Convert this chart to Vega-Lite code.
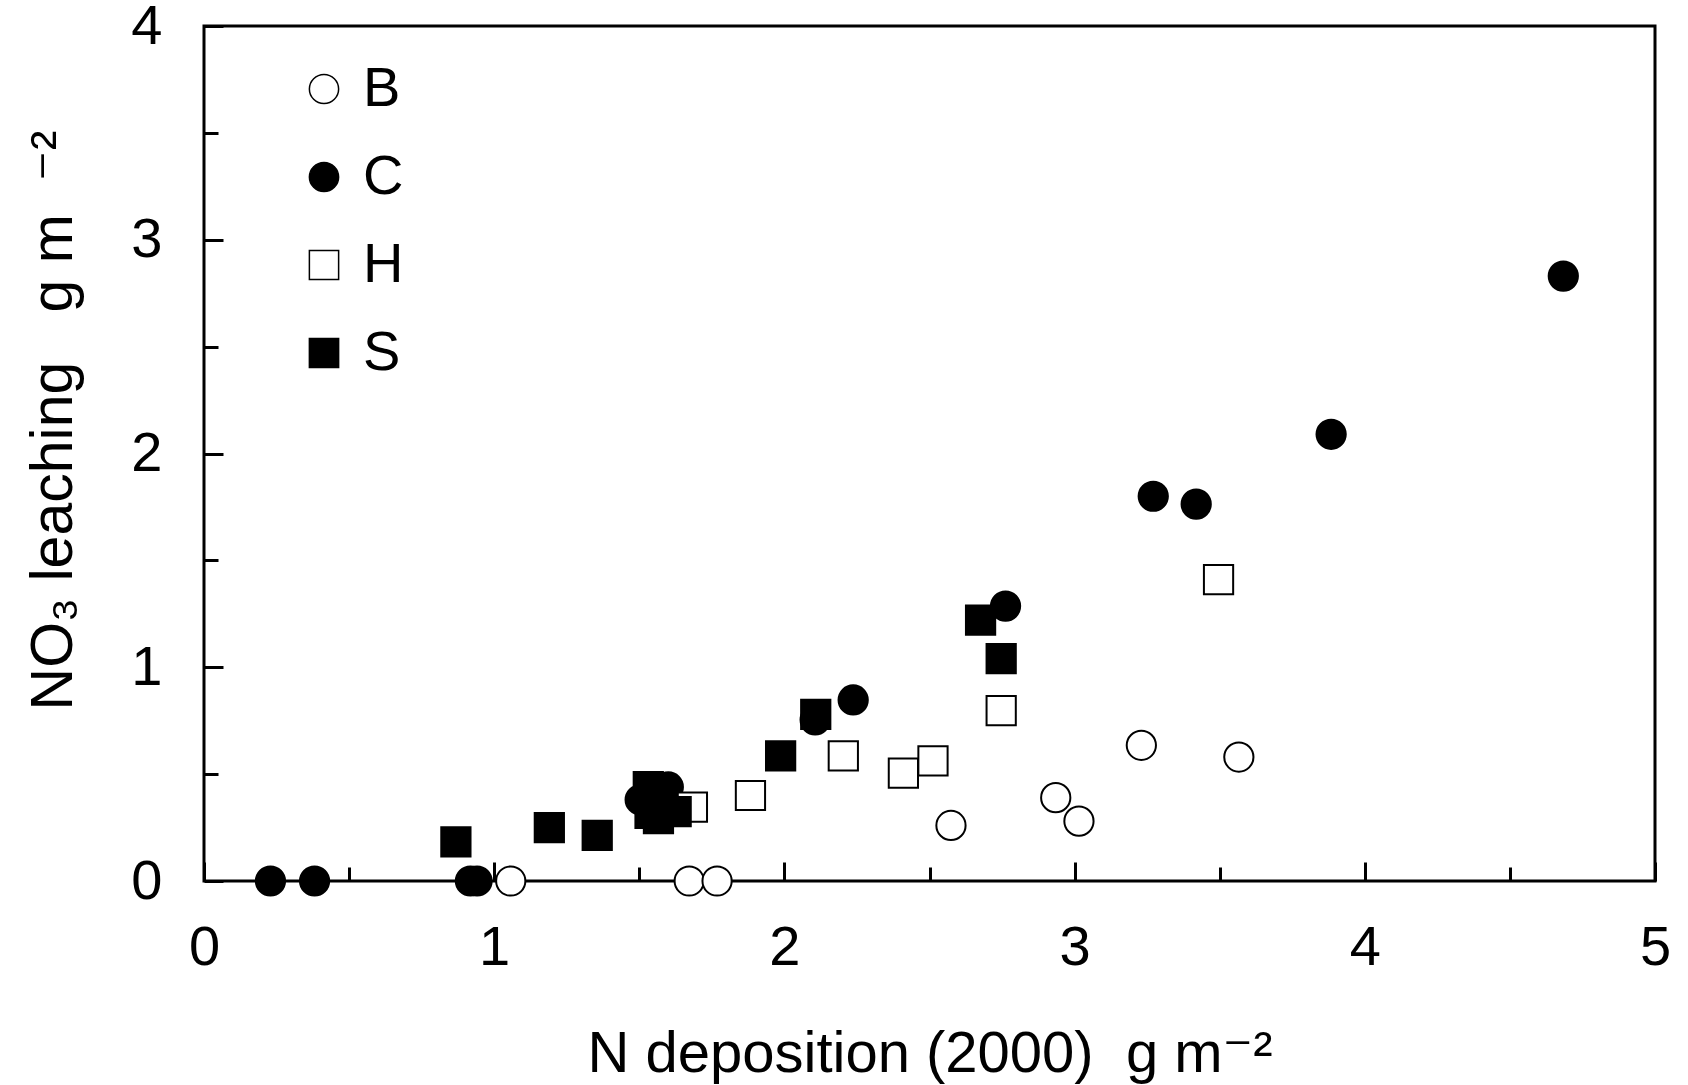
{
  "$schema": "https://vega.github.io/schema/vega-lite/v6.json",
  "width": 1451,
  "height": 855,
  "autosize": "none",
  "padding": {"left": 204, "top": 26, "right": 33, "bottom": 204},
  "background": "white",
  "config": {
    "view": {"stroke": "black", "strokeWidth": 3},
    "font": "Liberation Sans, Arial, DejaVu Sans"
  },
  "data": {
    "values": [
      {"series": "B", "dep": 1.057, "leach": 0},
      {"series": "B", "dep": 1.672, "leach": 0},
      {"series": "B", "dep": 1.768, "leach": 0},
      {"series": "B", "dep": 2.574, "leach": 0.26},
      {"series": "B", "dep": 2.935, "leach": 0.39},
      {"series": "B", "dep": 3.015, "leach": 0.28},
      {"series": "B", "dep": 3.23, "leach": 0.635},
      {"series": "B", "dep": 3.566, "leach": 0.58},
      {"series": "C", "dep": 0.229, "leach": 0},
      {"series": "C", "dep": 0.381, "leach": 0},
      {"series": "C", "dep": 0.918, "leach": 0},
      {"series": "C", "dep": 0.941, "leach": 0},
      {"series": "C", "dep": 1.503, "leach": 0.38},
      {"series": "C", "dep": 1.6, "leach": 0.44},
      {"series": "C", "dep": 2.106, "leach": 0.754},
      {"series": "C", "dep": 2.237, "leach": 0.847},
      {"series": "C", "dep": 2.762, "leach": 1.286},
      {"series": "C", "dep": 3.271, "leach": 1.8},
      {"series": "C", "dep": 3.419, "leach": 1.763},
      {"series": "C", "dep": 3.884, "leach": 2.09},
      {"series": "C", "dep": 4.684, "leach": 2.83},
      {"series": "H", "dep": 1.683, "leach": 0.346},
      {"series": "H", "dep": 1.883, "leach": 0.4},
      {"series": "H", "dep": 2.203, "leach": 0.585},
      {"series": "H", "dep": 2.41, "leach": 0.505},
      {"series": "H", "dep": 2.512, "leach": 0.562},
      {"series": "H", "dep": 2.747, "leach": 0.797},
      {"series": "H", "dep": 3.496, "leach": 1.41},
      {"series": "S", "dep": 0.868, "leach": 0.183},
      {"series": "S", "dep": 1.19, "leach": 0.25},
      {"series": "S", "dep": 1.355, "leach": 0.214},
      {"series": "S", "dep": 1.531, "leach": 0.442},
      {"series": "S", "dep": 1.537, "leach": 0.316},
      {"series": "S", "dep": 1.566, "leach": 0.292},
      {"series": "S", "dep": 1.627, "leach": 0.325},
      {"series": "S", "dep": 1.987, "leach": 0.585},
      {"series": "S", "dep": 2.108, "leach": 0.779},
      {"series": "S", "dep": 2.676, "leach": 1.221},
      {"series": "S", "dep": 2.747, "leach": 1.04}
    ]
  },
  "mark": {"type": "point", "strokeWidth": 2, "opacity": 1, "stroke": "black"},
  "encoding": {
    "x": {
      "field": "dep",
      "type": "quantitative",
      "scale": {"domain": [0, 5], "nice": false},
      "axis": {
        "title": "N deposition (2000)\u00a0\u00a0g m⁻²",
        "values": [0, 0.5, 1, 1.5, 2, 2.5, 3, 3.5, 4, 4.5, 5],
        "labelExpr": "datum.value % 1 === 0 ? format(datum.value, 'd') : ''",
        "grid": false,
        "domain": false,
        "tickColor": "black",
        "tickWidth": 3,
        "tickSize": {"condition": {"test": "datum.value % 1 === 0", "value": -19}, "value": -14},
        "labelFontSize": 56,
        "labelColor": "black",
        "labelPadding": 58,
        "labelFlush": false,
        "labelOverlap": false,
        "titleFontSize": 58,
        "titleFontWeight": "normal",
        "titleColor": "black",
        "titlePadding": 45
      }
    },
    "y": {
      "field": "leach",
      "type": "quantitative",
      "scale": {"domain": [0, 4], "nice": false},
      "axis": {
        "title": "NO₃ leaching\u00a0\u00a0\u00a0g m\u00a0\u00a0⁻²",
        "values": [0, 0.5, 1, 1.5, 2, 2.5, 3, 3.5, 4],
        "labelExpr": "datum.value % 1 === 0 ? format(datum.value, 'd') : ''",
        "grid": false,
        "domain": false,
        "tickColor": "black",
        "tickWidth": 3,
        "tickSize": {"condition": {"test": "datum.value % 1 === 0", "value": -19}, "value": -14},
        "labelFontSize": 56,
        "labelColor": "black",
        "labelPadding": 61,
        "labelFlush": false,
        "labelOverlap": false,
        "titleFontSize": 59,
        "titleFontWeight": "normal",
        "titleColor": "black",
        "titlePadding": 47,
        "titleY": 394
      }
    },
    "shape": {
      "field": "series",
      "type": "nominal",
      "scale": {"domain": ["B", "C", "H", "S"], "range": ["circle", "circle", "square", "square"]},
      "legend": {
        "orient": "none",
        "legendX": 92,
        "legendY": 35,
        "title": null,
        "labelFontSize": 56,
        "labelColor": "black",
        "rowPadding": 32,
        "labelOffset": 11,
        "symbolSize": 1000,
        "symbolStrokeColor": "black",
        "symbolStrokeWidth": 1.5
      }
    },
    "fill": {
      "field": "series",
      "type": "nominal",
      "scale": {"domain": ["B", "C", "H", "S"], "range": ["white", "black", "white", "black"]}
    },
    "size": {
      "field": "series",
      "type": "nominal",
      "scale": {"domain": ["B", "C", "H", "S"], "range": [855, 855, 961, 961]}
    }
  }
}
